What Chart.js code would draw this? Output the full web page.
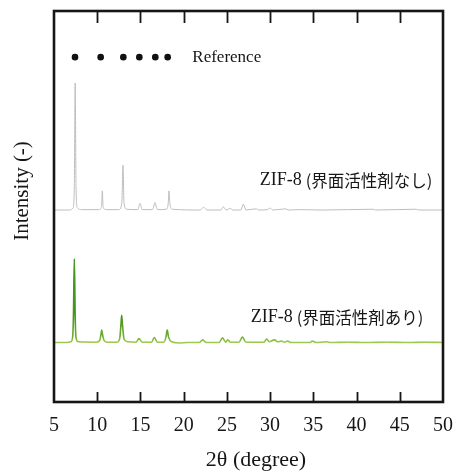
<!DOCTYPE html>
<html>
<head>
<meta charset="utf-8">
<script src="https://cdn.jsdelivr.net/npm/chart.js@4"></script>
<style>
  html, body { margin: 0; padding: 0; background: #fff; }
  #wrap { width: 458px; height: 472px; }
</style>
</head>
<body>
<div id="wrap"><canvas id="c" width="458" height="472"></canvas></div>
<script>
// XRD patterns of ZIF-8, stacked with vertical offsets (arbitrary intensity units)

// ZIF-8 made with surfactant (lower trace)
const twoThetaWith = [
  5.0, 6.5, 6.95, 7.15, 7.25, 7.35, 7.45, 7.55, 7.8,
  9.9, 10.3, 10.45, 10.52, 10.6, 10.8, 11.2,
  12.3, 12.6, 12.75, 12.83, 12.92, 13.1, 13.5,
  14.5, 14.83, 15.2, 16.3, 16.6, 16.95,
  17.7, 17.95, 18.1, 18.25, 18.6, 19.5, 20.5,
  21.8, 22.2, 22.6, 24.1, 24.5, 24.85, 25.1, 25.4,
  26.4, 26.8, 27.2, 28.0, 29.3, 29.6, 29.9, 30.5, 30.9,
  31.3, 31.7, 32.0, 32.4, 34.6, 34.9, 35.3, 36.5, 37.0,
  39.0, 41.0, 43.5, 46.0, 48.0, 50.0
];
const intensityWith = [
  15.2, 15.2, 15.4, 16.5, 22.0, 36.6, 22.0, 16.4, 15.4,
  15.3, 15.8, 17.5, 18.4, 17.4, 15.7, 15.3,
  15.3, 16.2, 20.0, 22.2, 19.8, 16.1, 15.4,
  15.3, 16.2, 15.3, 15.3, 16.5, 15.3,
  15.3, 16.6, 18.4, 16.6, 15.4, 15.1, 15.2,
  15.2, 15.9, 15.2, 15.2, 16.4, 15.3, 15.9, 15.3,
  15.3, 16.6, 15.3, 15.3, 15.3, 16.1, 15.4, 15.9, 15.4,
  15.6, 15.3, 15.6, 15.2, 15.2, 15.6, 15.2, 15.4, 15.2,
  15.3, 15.2, 15.3, 15.2, 15.3, 15.2
];

// ZIF-8 made without surfactant (upper trace)
const twoThetaWithout = [
  5.0, 6.8, 7.2, 7.35, 7.45, 7.55, 7.7, 8.2,
  10.2, 10.5, 10.59, 10.68, 11.0,
  12.5, 12.85, 12.98, 13.1, 13.4,
  14.7, 14.95, 15.2, 16.4, 16.68, 16.95,
  18.0, 18.22, 18.3, 18.4, 18.7,
  21.9, 22.3, 22.7, 24.3, 24.6, 24.9, 25.4, 25.7,
  26.6, 26.9, 27.2, 28.4, 28.7, 29.7, 30.0, 30.3,
  31.8, 32.1, 33.5, 36.0, 41.9, 42.2, 46.9, 47.2, 50.0
];
const intensityWithout = [
  49.1, 49.1, 49.6, 55.0, 81.6, 55.0, 49.7, 49.2,
  49.2, 50.0, 54.0, 50.0, 49.2,
  49.2, 51.0, 60.6, 51.0, 49.3,
  49.2, 50.8, 49.2, 49.2, 51.0, 49.2,
  49.3, 51.0, 54.0, 50.8, 49.3,
  49.1, 49.8, 49.1, 49.1, 49.9, 49.1, 49.5, 49.1,
  49.1, 50.6, 49.1, 49.4, 49.1, 49.2, 49.6, 49.1,
  49.4, 49.1, 49.2, 49.1, 49.3, 49.1, 49.3, 49.1, 49.1
];

// Reference reflection positions
const referencePeaks = [7.43, 10.40, 13.02, 14.87, 16.72, 18.15];
const referenceLevel = [88.2, 88.2, 88.2, 88.2, 88.2, 88.2];

// Axis ticks
const xTickValues = [5, 10, 15, 20, 25, 30, 35, 40, 45, 50];

// Text
const referenceText = 'Reference';
const sampleName = 'ZIF-8';
const sampleNotes = ['(界面活性剤あり)', '(界面活性剤なし)'];
const xTitle = '2θ (degree)';
const yTitle = 'Intensity (-)';

const toPoints = (xs, ys) => xs.map((v, i) => ({ x: v, y: ys[i] }));

const SERIF = '"Liberation Serif", "Times New Roman", serif';
const CJK = '"Noto Sans CJK JP", sans-serif';
const INK = '#161616';

function greenStroke(context) {
  const chart = context.chart;
  const { ctx, chartArea, scales } = chart;
  if (!chartArea) return '#5ea32a';
  const y = scales.y;
  const g = ctx.createLinearGradient(0, y.getPixelForValue(15), 0, y.getPixelForValue(22));
  g.addColorStop(0, '#a3cc55');
  g.addColorStop(0.25, '#6eab2e');
  g.addColorStop(1, '#44961c');
  return g;
}

const decorations = {
  id: 'decorations',
  afterDatasetsDraw(chart) {
    const { ctx, chartArea: a, scales: { x, y } } = chart;
    ctx.save();

    // frame
    ctx.strokeStyle = INK;
    ctx.lineWidth = 2.6;
    ctx.strokeRect(a.left, a.top, a.right - a.left, a.bottom - a.top);

    // inward tick marks on bottom and top edges
    ctx.lineWidth = 1.8;
    xTickValues.filter(v => v > x.min && v < x.max).forEach(v => {
      const px = Math.round(x.getPixelForValue(v)) + 0.5;
      ctx.beginPath();
      ctx.moveTo(px, a.bottom);
      ctx.lineTo(px, a.bottom - 10);
      ctx.moveTo(px, a.top);
      ctx.lineTo(px, a.top + 12);
      ctx.stroke();
    });

    ctx.fillStyle = INK;
    ctx.textBaseline = 'middle';

    // reference label
    ctx.textAlign = 'left';
    ctx.font = '17px ' + SERIF;
    ctx.fillText(referenceText, x.getPixelForValue(21), y.getPixelForValue(referenceLevel[0]));

    // sample labels
    const drawSample = (note, xv, yv) => {
      let px = x.getPixelForValue(xv);
      const py = y.getPixelForValue(yv);
      ctx.font = '18px ' + SERIF;
      ctx.fillText(sampleName, px, py);
      px += ctx.measureText(sampleName).width + 4;
      ctx.font = '16.5px ' + CJK;
      ctx.fillText(note, px, py + 1);
    };
    drawSample(sampleNotes[1], 28.8, 56.8);
    drawSample(sampleNotes[0], 27.75, 21.7);

    // axis titles
    ctx.textAlign = 'center';
    ctx.font = '22px ' + SERIF;
    ctx.fillText(xTitle, 256, 460);

    ctx.save();
    ctx.translate(22, 191);
    ctx.rotate(-Math.PI / 2);
    ctx.font = '21px ' + SERIF;
    ctx.fillText(yTitle, 0, 0);
    ctx.restore();

    ctx.restore();
  }
};

new Chart(document.getElementById('c'), {
  type: 'scatter',
  data: {
    datasets: [
      {
        label: sampleName + ' ' + sampleNotes[0],
        data: toPoints(twoThetaWith, intensityWith),
        showLine: true,
        borderColor: greenStroke,
        borderWidth: 1.6,
        pointRadius: 0,
        cubicInterpolationMode: 'monotone'
      },
      {
        label: sampleName + ' ' + sampleNotes[1],
        data: toPoints(twoThetaWithout, intensityWithout),
        showLine: true,
        borderColor: '#bdbdbd',
        borderWidth: 1,
        pointRadius: 0,
        cubicInterpolationMode: 'monotone'
      },
      {
        label: referenceText,
        data: toPoints(referencePeaks, referenceLevel),
        showLine: false,
        pointRadius: 3.3,
        pointBackgroundColor: '#111',
        pointBorderWidth: 0
      }
    ]
  },
  options: {
    responsive: false,
    animation: false,
    events: [],
    layout: { padding: { top: 11, right: 15, left: 54, bottom: 0 } },
    plugins: { legend: { display: false }, tooltip: { enabled: false } },
    scales: {
      x: {
        type: 'linear',
        min: 5,
        max: 50,
        afterBuildTicks: s => { s.ticks = xTickValues.map(v => ({ value: v })); },
        afterFit: s => { s.height = 70; s.paddingLeft = 0; s.paddingRight = 0; },
        grid: { display: false, drawTicks: false },
        border: { display: false },
        ticks: {
          autoSkip: false,
          maxRotation: 0,
          padding: 12,
          color: INK,
          font: { family: SERIF, size: 20 }
        }
      },
      y: {
        display: false,
        min: 0,
        max: 100
      }
    }
  },
  plugins: [decorations]
});
</script>
</body>
</html>
